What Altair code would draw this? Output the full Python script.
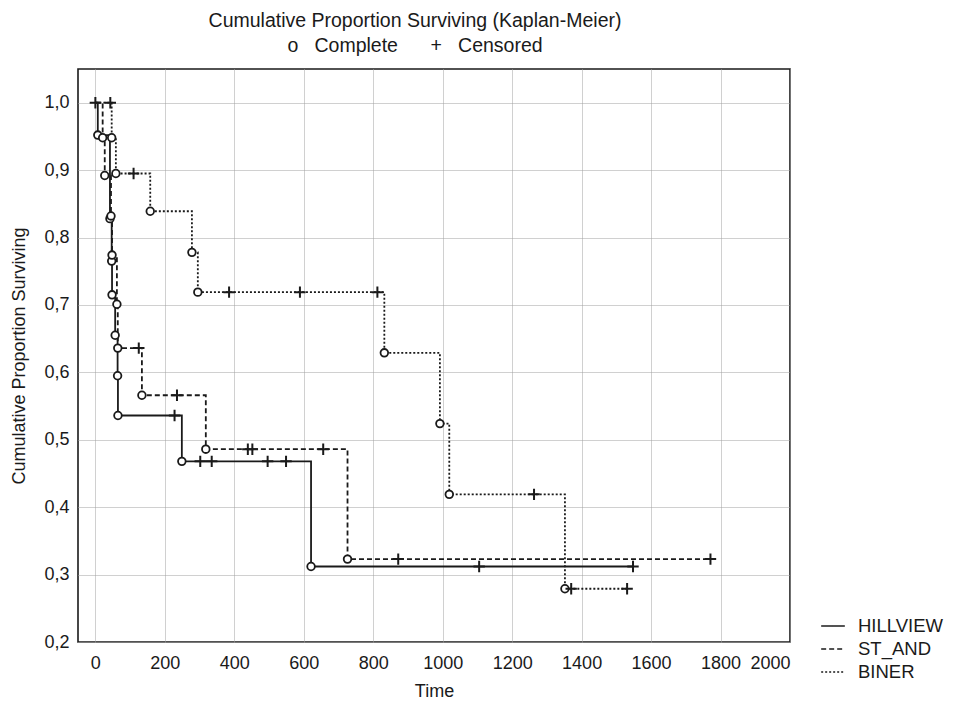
import altair as alt
import pandas as pd

FONT = "Liberation Sans"

groups = ["HILLVIEW", "ST_AND", "BINER"]

# Event (complete) steps: time and survival after the step; first entry is the start
hill_t = [0, 7, 42, 47, 48, 57, 64, 65, 249, 621]
hill_s = [1.0, 0.952, 0.828, 0.765, 0.715, 0.655, 0.595, 0.536, 0.468, 0.312]
hill_cens_t = [0, 228, 302, 335, 496, 549, 1105, 1548]
hill_cens_s = [1.0, 0.536, 0.468, 0.468, 0.468, 0.468, 0.312, 0.312]

st_t = [0, 21, 27, 45, 48, 62, 64.5, 134, 318, 726]
st_s = [1.0, 0.948, 0.892, 0.832, 0.774, 0.701, 0.636, 0.566, 0.486, 0.323]
st_cens_t = [125, 235, 439, 452, 656, 872, 1771]
st_cens_s = [0.636, 0.566, 0.486, 0.486, 0.486, 0.323, 0.323]

biner_t = [0, 47, 59, 158, 278, 295, 832, 992, 1019, 1352]
biner_s = [1.0, 0.948, 0.895, 0.839, 0.778, 0.719, 0.629, 0.524, 0.419, 0.279]
biner_cens_t = [43, 110, 385, 589, 812, 1263, 1370, 1531]
biner_cens_s = [1.0, 0.895, 0.719, 0.719, 0.719, 0.419, 0.279, 0.279]

x_ticks = [0, 200, 400, 600, 800, 1000, 1200, 1400, 1600, 1800, 2000]
y_ticks = [0.2, 0.3, 0.4, 0.5, 0.6, 0.7, 0.8, 0.9, 1.0]

series = [
    ("HILLVIEW", hill_t, hill_s, hill_cens_t, hill_cens_s),
    ("ST_AND", st_t, st_s, st_cens_t, st_cens_s),
    ("BINER", biner_t, biner_s, biner_cens_t, biner_cens_s),
]

line_rows, event_rows, cens_rows = [], [], []
for g, ts, ss, cts, css in series:
    k = 0
    for i, (t, s) in enumerate(zip(ts, ss)):
        line_rows.append({"group": g, "time": t, "surv": s, "ord": k})
        k += 1
        if i > 0:
            event_rows.append({"group": g, "time": t, "surv": s})
    line_rows.append({"group": g, "time": max(cts), "surv": ss[-1], "ord": k})
    for t, s in zip(cts, css):
        cens_rows.append({"group": g, "time": t, "surv": s})

lines_df = pd.DataFrame(line_rows)
events_df = pd.DataFrame(event_rows)
cens_df = pd.DataFrame(cens_rows)

xscale = alt.Scale(domain=[-50, 2000], nice=False, zero=False)
yscale = alt.Scale(domain=[0.2, 1.05], nice=False, zero=False)

x_enc = alt.X("time:Q", scale=xscale,
              axis=alt.Axis(values=x_ticks, title="Time", format="d"))
y_enc = alt.Y("surv:Q", scale=yscale,
              axis=alt.Axis(values=y_ticks, title="Cumulative Proportion Surviving",
                            labelExpr="replace(format(datum.value, '.1f'), '.', ',')"))

lines = alt.Chart(lines_df).mark_line(
    interpolate="step-after", strokeWidth=1.8, color="#1a1a1a"
).encode(
    x=x_enc, y=y_enc,
    strokeDash=alt.StrokeDash(
        "group:N",
        scale=alt.Scale(domain=groups, range=[[1, 0], [5, 3], [2, 2]]),
        legend=alt.Legend(
            title=None, orient="none", legendX=742, legendY=544,
            symbolType="stroke", symbolSize=560, symbolStrokeWidth=1.6,
            symbolStrokeColor="#1a1a1a", labelFont=FONT, labelFontSize=18.5,
            labelColor="#1a1a1a", labelOffset=12, rowPadding=0,
        ),
    ),
    detail="group:N",
    order="ord:Q",
)

circles = alt.Chart(events_df).mark_point(
    shape="circle", filled=True, fill="white", stroke="#1a1a1a",
    strokeWidth=1.8, size=58, opacity=1
).encode(x="time:Q", y="surv:Q")

crosses = alt.Chart(cens_df).mark_point(
    shape="M-1,0H1M0,-1V1", filled=False, stroke="#1a1a1a",
    strokeWidth=2, size=130, opacity=1
).encode(x="time:Q", y="surv:Q")

chart = alt.layer(lines, circles, crosses).properties(
    width=712, height=573,
    autosize=alt.AutoSizeParams(type="none"),
    padding={"left": 78, "top": 69, "right": 163, "bottom": 71},
    title=alt.Title(
        "Cumulative Proportion Surviving (Kaplan-Meier)",
        subtitle="o\u00a0\u00a0\u00a0Complete\u00a0\u00a0\u00a0\u00a0\u00a0\u00a0+\u00a0\u00a0\u00a0Censored",
        font=FONT, subtitleFont=FONT, fontSize=19.5, subtitleFontSize=19.5,
        fontWeight="normal", color="#1a1a1a", subtitleColor="#1a1a1a",
        anchor="middle", dx=-19, offset=13, subtitlePadding=5,
    ),
).configure_view(
    stroke="#1a1a1a", strokeWidth=1.6
).configure_axis(
    labelFont=FONT, labelFontSize=18, labelColor="#1a1a1a",
    titleFont=FONT, titleFontSize=18, titleFontWeight="normal", titleColor="#1a1a1a",
    grid=True, gridColor="#a0a0a0", gridDash=[1, 1], gridWidth=1,
    domain=False, ticks=False,
).configure_axisX(
    labelPadding=12, titlePadding=10
).configure_axisY(
    labelPadding=9, titlePadding=15
)

chart.save("out.html", embed_options={"renderer": "svg", "actions": False})
